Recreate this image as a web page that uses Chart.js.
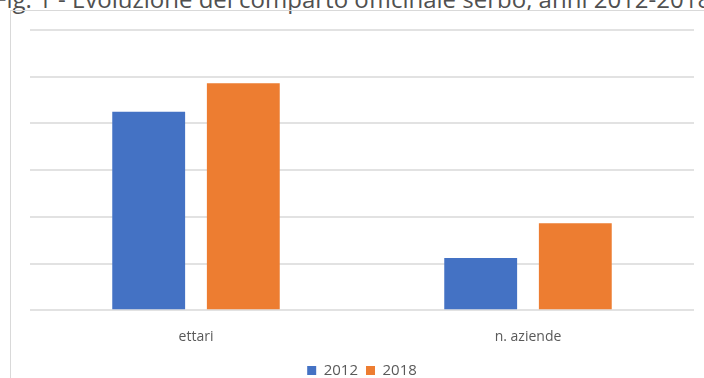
<!DOCTYPE html>
<html>
<head>
<meta charset="utf-8">
<script src="https://cdn.jsdelivr.net/npm/chart.js@4.4.0/dist/chart.umd.min.js"></script>
<style>
  html, body { margin: 0; padding: 0; background: #fff; }
  body { width: 704px; height: 378px; overflow: hidden; position: relative; }
  .title {
    position: absolute; left: -6px; top: -18px; white-space: nowrap;
    font-family: "Open Sans", sans-serif; font-size: 24px; color: #505050;
  }
  .frame {
    position: absolute; left: 10px; top: 10px; width: 760px; height: 420px;
    border: 1px solid #d9d9d9;
  }
  #wrap { position: absolute; left: 0; top: 0; width: 704px; height: 388px; }
</style>
</head>
<body>
<div class="title">Fig. 1 - Evoluzione del comparto officinale serbo, anni 2012-2018</div>
<div class="frame"></div>
<div id="wrap"><canvas id="chart"></canvas></div>
<script>
// dati (scala in unità di griglia)
const categories = ['ettari', 'n. aziende'];
const seriesNames = ['2012', '2018'];
const values2012 = [4.25, 1.12];
const values2018 = [4.86, 1.86];
const seriesColors = ['#4472C4', '#ED7D31'];

document.addEventListener('DOMContentLoaded', () => {
    const ctx = document.getElementById('chart');

    new Chart(ctx, {
        type: 'bar',
        data: {
            labels: categories,
            datasets: [
                { label: seriesNames[0], data: values2012, backgroundColor: seriesColors[0] },
                { label: seriesNames[1], data: values2018, backgroundColor: seriesColors[1] }
            ]
        },
        options: {
            responsive: true,
            maintainAspectRatio: false,
            animation: false,
            categoryPercentage: 0.57,
            barPercentage: 0.77,
            layout: { padding: { left: 30, right: 10, top: 30, bottom: 0 } },
            scales: {
                x: {
                    grid: { display: false },
                    border: { display: false },
                    ticks: {
                        color: '#595959',
                        padding: 10,
                        font: { family: "'Open Sans', sans-serif", size: 14 }
                    }
                },
                y: {
                    min: 0,
                    max: 6,
                    ticks: { stepSize: 1, display: false },
                    grid: { color: '#e2e2e2', lineWidth: 2, drawTicks: false },
                    border: { display: false }
                }
            },
            plugins: {
                tooltip: { enabled: false },
                legend: {
                    position: 'bottom',
                    labels: {
                        color: '#595959',
                        boxWidth: 9,
                        boxHeight: 9,
                        padding: 8,
                        font: { family: "'Open Sans', sans-serif", size: 15 }
                    }
                }
            }
        }
    });
});
</script>
</body>
</html>
